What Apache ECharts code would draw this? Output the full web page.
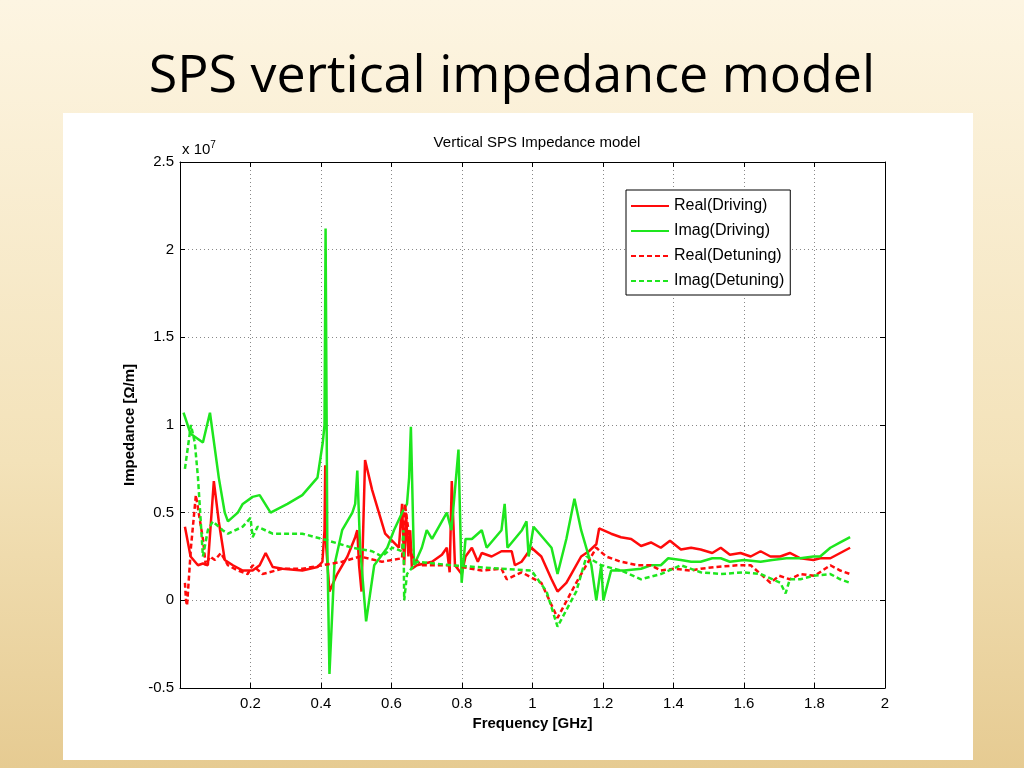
<!DOCTYPE html>
<html>
<head>
<meta charset="utf-8">
<script src="https://cdn.jsdelivr.net/npm/echarts@6/dist/echarts.min.js"></script>
<style>
  html, body { margin: 0; padding: 0; }
  body { width: 1024px; height: 768px; background: linear-gradient(#fdf5e2, #f3e2b9 60%, #e6cb92); }
  #main { width: 1024px; height: 768px; }
</style>
</head>
<body>
<div id="main"></div>
<script>
// 频率 GHz, 阻抗 单位 1e7 Ω/m
const realDriving = [
  [0.014, 0.42], [0.03, 0.25], [0.051, 0.2], [0.065, 0.21], [0.079, 0.2], [0.096, 0.68], [0.11, 0.45], [0.127, 0.23],
  [0.15, 0.2], [0.178, 0.17], [0.206, 0.17], [0.226, 0.2], [0.243, 0.27], [0.263, 0.19], [0.291, 0.18], [0.347, 0.17],
  [0.39, 0.19], [0.404, 0.22], [0.41, 0.4], [0.412, 0.77], [0.415, 0.3], [0.424, 0.05], [0.446, 0.15], [0.475, 0.25],
  [0.497, 0.36], [0.503, 0.4], [0.508, 0.2], [0.515, 0.05], [0.525, 0.8], [0.545, 0.63], [0.582, 0.38], [0.621, 0.3],
  [0.63, 0.55], [0.636, 0.2], [0.641, 0.5], [0.648, 0.25], [0.653, 0.4], [0.658, 0.18], [0.672, 0.2], [0.715, 0.22],
  [0.743, 0.26], [0.757, 0.3], [0.765, 0.16], [0.771, 0.68], [0.78, 0.2], [0.799, 0.15], [0.81, 0.25], [0.828, 0.3],
  [0.845, 0.22], [0.856, 0.27], [0.884, 0.25], [0.912, 0.28], [0.941, 0.28], [0.95, 0.2], [0.969, 0.22], [0.997, 0.3],
  [1.025, 0.25], [1.054, 0.12], [1.071, 0.05], [1.096, 0.1], [1.11, 0.15], [1.138, 0.25], [1.16, 0.28], [1.181, 0.32],
  [1.189, 0.41], [1.223, 0.38], [1.251, 0.36], [1.28, 0.35], [1.308, 0.31], [1.336, 0.33], [1.364, 0.3], [1.39, 0.34],
  [1.421, 0.29], [1.45, 0.3], [1.477, 0.29], [1.51, 0.27], [1.534, 0.3], [1.56, 0.26], [1.59, 0.27], [1.619, 0.25],
  [1.647, 0.28], [1.675, 0.25], [1.703, 0.25], [1.73, 0.27], [1.76, 0.24], [1.797, 0.23], [1.816, 0.24], [1.845, 0.24],
  [1.873, 0.27], [1.901, 0.3]
];
const imagDriving = [
  [0.01, 1.07], [0.03, 0.95], [0.051, 0.92], [0.065, 0.9], [0.085, 1.07], [0.11, 0.7], [0.127, 0.5], [0.136, 0.45],
  [0.164, 0.5], [0.178, 0.55], [0.206, 0.59], [0.226, 0.6], [0.257, 0.5], [0.305, 0.55], [0.347, 0.6], [0.39, 0.7],
  [0.405, 0.9], [0.41, 1.0], [0.413, 2.12], [0.418, 0.3], [0.424, -0.42], [0.438, 0.2], [0.46, 0.4], [0.489, 0.5],
  [0.497, 0.55], [0.503, 0.74], [0.511, 0.3], [0.528, -0.12], [0.551, 0.2], [0.588, 0.3], [0.607, 0.4], [0.63, 0.5],
  [0.644, 0.55], [0.65, 0.7], [0.655, 0.99], [0.664, 0.2], [0.686, 0.3], [0.7, 0.4], [0.715, 0.35], [0.743, 0.45],
  [0.757, 0.5], [0.77, 0.4], [0.79, 0.86], [0.799, 0.1], [0.81, 0.35], [0.828, 0.35], [0.856, 0.4], [0.87, 0.3],
  [0.912, 0.4], [0.921, 0.55], [0.929, 0.3], [0.97, 0.4], [0.983, 0.45], [0.989, 0.25], [1.003, 0.42], [1.054, 0.3],
  [1.071, 0.15], [1.096, 0.35], [1.119, 0.58], [1.138, 0.4], [1.167, 0.2], [1.181, 0.0], [1.195, 0.2], [1.201, 0.0],
  [1.223, 0.17], [1.26, 0.17], [1.308, 0.18], [1.336, 0.2], [1.364, 0.2], [1.385, 0.24], [1.421, 0.23], [1.45, 0.22],
  [1.477, 0.22], [1.51, 0.24], [1.534, 0.24], [1.56, 0.22], [1.6, 0.23], [1.647, 0.22], [1.68, 0.23], [1.72, 0.24],
  [1.76, 0.24], [1.797, 0.25], [1.816, 0.25], [1.845, 0.3], [1.873, 0.33], [1.901, 0.36]
];
const realDetuning = [
  [0.014, 0.1], [0.017, 0.0], [0.02, -0.03], [0.031, 0.3], [0.045, 0.6], [0.065, 0.35], [0.073, 0.2], [0.085, 0.25],
  [0.099, 0.23], [0.116, 0.27], [0.136, 0.2], [0.164, 0.17], [0.192, 0.15], [0.206, 0.2], [0.234, 0.15], [0.291, 0.18],
  [0.347, 0.18], [0.404, 0.2], [0.46, 0.22], [0.511, 0.25], [0.573, 0.22], [0.63, 0.24], [0.638, 0.55], [0.658, 0.25],
  [0.686, 0.2], [0.771, 0.2], [0.856, 0.17], [0.912, 0.18], [0.927, 0.12], [0.969, 0.16], [1.025, 0.1], [1.071, -0.1],
  [1.124, 0.1], [1.181, 0.3], [1.209, 0.25], [1.251, 0.22], [1.3, 0.2], [1.336, 0.2], [1.364, 0.17], [1.4, 0.18],
  [1.45, 0.17], [1.477, 0.18], [1.52, 0.19], [1.58, 0.2], [1.619, 0.2], [1.647, 0.15], [1.675, 0.1], [1.7, 0.14],
  [1.73, 0.12], [1.76, 0.15], [1.8, 0.14], [1.845, 0.2], [1.873, 0.17], [1.901, 0.15]
];
const imagDetuning = [
  [0.014, 0.75], [0.031, 1.0], [0.042, 0.9], [0.051, 0.7], [0.065, 0.25], [0.079, 0.4], [0.093, 0.45], [0.121, 0.4],
  [0.136, 0.38], [0.178, 0.42], [0.2, 0.47], [0.206, 0.36], [0.22, 0.42], [0.263, 0.38], [0.347, 0.38], [0.404, 0.35],
  [0.489, 0.3], [0.545, 0.28], [0.573, 0.25], [0.602, 0.3], [0.63, 0.28], [0.634, 0.4], [0.636, 0.0], [0.644, 0.15],
  [0.672, 0.22], [0.771, 0.2], [0.912, 0.18], [0.997, 0.17], [1.04, 0.05], [1.071, -0.15], [1.124, 0.05], [1.153, 0.25],
  [1.195, 0.2], [1.251, 0.17], [1.308, 0.12], [1.364, 0.15], [1.421, 0.2], [1.477, 0.16], [1.534, 0.15], [1.6, 0.16],
  [1.647, 0.15], [1.703, 0.1], [1.718, 0.04], [1.73, 0.12], [1.76, 0.12], [1.797, 0.14], [1.845, 0.15], [1.873, 0.12],
  [1.901, 0.1]
];
const xTicks = [0.2, 0.4, 0.6, 0.8, 1, 1.2, 1.4, 1.6, 1.8, 2];
const yTicks = [-0.5, 0, 0.5, 1, 1.5, 2, 2.5];

const RED = '#ff0a0a';
const GREEN = '#1ee61e';

const chart = echarts.init(document.getElementById('main'));

const mkSeries = (name, data, color, type) => ({
  name, type: 'line', data, symbol: 'none', animation: false,
  lineStyle: { color, width: 2.5, type },
  itemStyle: { color }
});

const axisCommon = {
  axisLine: { show: true, onZero: false, lineStyle: { color: '#000', width: 1 } },
  axisTick: { show: true, inside: true, length: 5, lineStyle: { color: '#000' } },
  splitLine: { show: true, lineStyle: { color: '#888', type: [1, 3] } }
};

const option = {
  backgroundColor: 'transparent',
  title: [
    {
      text: 'SPS vertical impedance model', left: 'center', top: 46,
      textStyle: { fontFamily: 'Open Sans', fontWeight: 'normal', fontSize: 52, color: '#000' }
    },
    {
      text: 'Vertical SPS Impedance model', left: 532, top: 130, textAlign: 'center',
      textStyle: { fontFamily: 'Liberation Sans', fontWeight: 'normal', fontSize: 15, color: '#000' }
    }
  ],
  graphic: [
    { type: 'rect', z: -10, shape: { x: 63, y: 113, width: 910, height: 647 }, style: { fill: '#fff' } },
    {
      type: 'text', left: 182, top: 140,
      style: {
        text: '{a|x 10}{b|7}',
        rich: {
          a: { fontFamily: 'Liberation Sans', fontSize: 15, color: '#000' },
          b: { fontFamily: 'Liberation Sans', fontSize: 10, color: '#000', verticalAlign: 'top', padding: [0, 0, 10, 0] }
        }
      }
    }
  ],
  legend: {
    orient: 'vertical', left: 626, top: 190, itemWidth: 38, itemHeight: 12, itemGap: 9,
    backgroundColor: '#fff', borderColor: '#000', borderWidth: 1, padding: [8, 6, 6, 4],
    itemStyle: { opacity: 0 },
    textStyle: { fontFamily: 'Liberation Sans', fontSize: 16, color: '#000' },
    data: ['Real(Driving)', 'Imag(Driving)', 'Real(Detuning)', 'Imag(Detuning)']
  },
  grid: { left: 180, right: 139, top: 162, bottom: 80 },
  xAxis: [
    {
      ...axisCommon, type: 'value', min: 0, max: 2, interval: 0.2, position: 'bottom',
      name: 'Frequency [GHz]', nameLocation: 'middle', nameGap: 24,
      nameTextStyle: { fontFamily: 'Liberation Sans', fontWeight: 'bold', fontSize: 15, color: '#000' },
      axisLabel: {
        fontFamily: 'Liberation Sans', fontSize: 15, color: '#000', margin: 8,
        formatter: v => xTicks.includes(Math.round(v * 10) / 10) ? String(Math.round(v * 10) / 10) : ''
      }
    },
    {
      ...axisCommon, type: 'value', min: 0, max: 2, interval: 0.2, position: 'top',
      splitLine: { show: false }, axisLabel: { show: false }
    }
  ],
  yAxis: [
    {
      ...axisCommon, type: 'value', min: -0.5, max: 2.5, interval: 0.5, position: 'left',
      name: 'Impedance [Ω/m]', nameLocation: 'middle', nameGap: 40,
      nameTextStyle: { fontFamily: 'Liberation Sans', fontWeight: 'bold', fontSize: 15, color: '#000' },
      axisLabel: {
        fontFamily: 'Liberation Sans', fontSize: 15, color: '#000', margin: 6,
        formatter: v => yTicks.includes(v) ? String(v) : ''
      }
    },
    {
      ...axisCommon, type: 'value', min: -0.5, max: 2.5, interval: 0.5, position: 'right',
      splitLine: { show: false }, axisLabel: { show: false }
    }
  ],
  series: [
    mkSeries('Real(Driving)', realDriving, RED, 'solid'),
    mkSeries('Imag(Driving)', imagDriving, GREEN, 'solid'),
    mkSeries('Real(Detuning)', realDetuning, RED, [5, 3]),
    mkSeries('Imag(Detuning)', imagDetuning, GREEN, [5, 3])
  ]
};

option && chart.setOption(option);
</script>
</body>
</html>
